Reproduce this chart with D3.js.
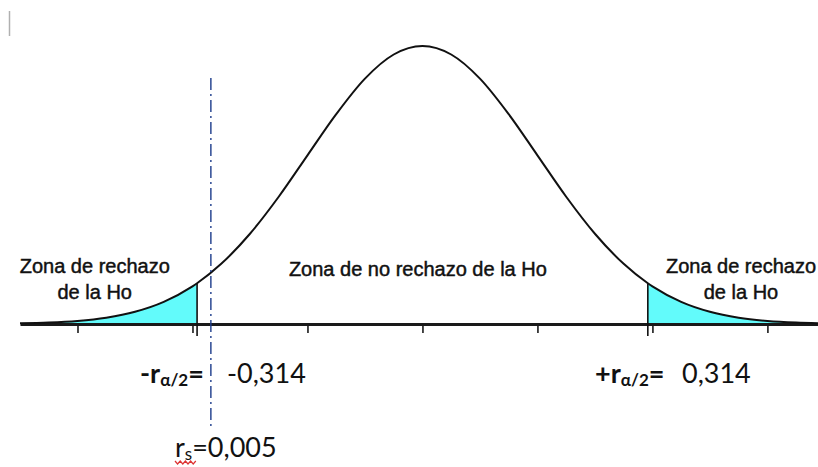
<!DOCTYPE html>
<html>
<head>
<meta charset="utf-8">
<script src="https://cdn.jsdelivr.net/npm/d3@7"></script>
<style>
  html, body { margin: 0; padding: 0; background: #fff; }
  svg { display: block; }
</style>
</head>
<body>
<div id="chart"></div>
<script>
// standard normal curve (z, height)
const curveZ = [-3.5, -3.25, -3, -2.75, -2.5, -2.25, -2, -1.96, -1.75, -1.5, -1.25, -1, -0.75, -0.5, -0.25, 0,
  0.25, 0.5, 0.75, 1, 1.25, 1.5, 1.75, 1.96, 2, 2.25, 2.5, 2.75, 3, 3.25, 3.5];
const curveDensity = [0.0009, 0.0020, 0.0044, 0.0091, 0.0175, 0.0317, 0.0540, 0.0584, 0.0863, 0.1295, 0.1826, 0.2420, 0.3011, 0.3521, 0.3867, 0.3989,
  0.3867, 0.3521, 0.3011, 0.2420, 0.1826, 0.1295, 0.0863, 0.0584, 0.0540, 0.0317, 0.0175, 0.0091, 0.0044, 0.0020, 0.0009];

const tickValues = [-3, -2, -1, 0, 1, 2, 3];
const criticalValues = [-1.96, 1.96];
const rsPosition = -1.84;

const zoneLabels = [
  { lines: ["Zona de rechazo", "de la Ho"], z: -2.85 },
  { lines: ["Zona de no rechazo de la Ho"], z: -0.04 },
  { lines: ["Zona de rechazo", "de la Ho"], z: 2.77 }
];

const size = { x: 818, y: 467 };
const axisY = 324;

const points = curveZ.map((z, i) => ({ z: z, d: curveDensity[i] }));

const xScale = d3.scaleLinear()
  .domain([-3.5, 3.44])
  .range([20, 818]);

const yScale = d3.scaleLinear()
  .domain([0, 0.3989])
  .range([axisY, 46]);

const svg = d3.select("#chart")
  .append("svg")
  .attr("width", size.x)
  .attr("height", size.y)
  .attr("viewBox", [0, 0, size.x, size.y]);

// little grey cursor mark top-left
svg.append("line")
  .attr("x1", 9.5).attr("x2", 9.5)
  .attr("y1", 11).attr("y2", 36)
  .attr("stroke", "#b0b0b0")
  .attr("stroke-width", 1.5);

// shaded tails
const area = d3.area()
  .x(d => xScale(d.z))
  .y0(axisY)
  .y1(d => yScale(d.d))
  .curve(d3.curveMonotoneX);

svg.append("path")
  .datum(points.filter(d => d.z <= criticalValues[0]))
  .attr("d", area)
  .attr("fill", "#62fbfb");

svg.append("path")
  .datum(points.filter(d => d.z >= criticalValues[1]))
  .attr("d", area)
  .attr("fill", "#62fbfb");

// axis
const axis = svg.append("g")
  .attr("transform", `translate(0,${axisY})`)
  .call(d3.axisBottom(xScale).tickValues(tickValues).tickFormat("").tickSize(9).tickSizeOuter(0));

axis.select(".domain")
  .attr("stroke", "#1a1a1a")
  .attr("stroke-width", 3);

axis.selectAll(".tick line")
  .attr("stroke", "#1a1a1a")
  .attr("stroke-width", 1.6);

// critical value lines
svg.selectAll(".critical")
  .data(criticalValues)
  .enter()
  .append("line")
  .attr("class", "critical")
  .attr("x1", d => xScale(d))
  .attr("x2", d => xScale(d))
  .attr("y1", d => yScale(points.find(p => p.z === d).d))
  .attr("y2", axisY + 12)
  .attr("stroke", "#111")
  .attr("stroke-width", 1.6);

// curve
const line = d3.line()
  .x(d => xScale(d.z))
  .y(d => yScale(d.d))
  .curve(d3.curveMonotoneX);

svg.append("path")
  .datum(points)
  .attr("d", line)
  .attr("fill", "none")
  .attr("stroke", "#111")
  .attr("stroke-width", 2);

// r_s dash-dot line
svg.append("line")
  .attr("x1", xScale(rsPosition))
  .attr("x2", xScale(rsPosition))
  .attr("y1", 78)
  .attr("y2", 426)
  .attr("stroke", "#1c3c8c")
  .attr("stroke-width", 1.4)
  .attr("stroke-dasharray", "12,4,2,4");

// zone labels
const zoneText = svg.selectAll(".zone")
  .data(zoneLabels)
  .enter()
  .append("text")
  .attr("class", "zone")
  .attr("text-anchor", "middle")
  .attr("font-family", "'Liberation Sans', Arial, sans-serif")
  .attr("font-size", "20px")
  .attr("fill", "#111")
  .attr("stroke", "#111")
  .attr("stroke-width", 0.45)
  .attr("transform", d => `translate(${xScale(d.z)},${d.lines.length > 1 ? 273 : 276})`);

zoneText.selectAll("tspan")
  .data(d => d.lines)
  .enter()
  .append("tspan")
  .attr("x", 0)
  .attr("dy", (d, i) => i === 0 ? 0 : 26)
  .text(d => d);

// critical value labels
const labelFont = "Lato, 'Open Sans', sans-serif";

const addCritLabel = (x, sign) => {
  const t = svg.append("text")
    .attr("x", x)
    .attr("y", 383)
    .attr("font-family", labelFont)
    .attr("font-size", "27px")
    .attr("font-weight", "bold")
    .attr("fill", "#111");
  t.append("tspan").text(sign + "r");
  t.append("tspan").attr("font-size", "17px").attr("dy", 3).text("α/2");
  t.append("tspan").attr("dy", -3).text("=");
};

addCritLabel(140, "-");
addCritLabel(595, "+");

svg.append("text")
  .attr("x", 227).attr("y", 383)
  .attr("font-family", labelFont)
  .attr("font-size", "27px")
  .attr("fill", "#111")
  .text("-0,314");

svg.append("text")
  .attr("x", 682).attr("y", 383)
  .attr("font-family", labelFont)
  .attr("font-size", "27px")
  .attr("fill", "#111")
  .text("0,314");

// r_s label
const rs = svg.append("text")
  .attr("x", 175).attr("y", 457)
  .attr("font-family", labelFont)
  .attr("font-size", "27px")
  .attr("fill", "#111");
rs.append("tspan").text("r");
rs.append("tspan").attr("font-size", "17px").attr("dy", 3).text("s");
rs.append("tspan").attr("dy", -3).text("=0,005");

// spell-check squiggle under r_s
const squiggle = d3.range(0, 9).map(i => [175 + i * 2.6, i % 2 === 0 ? 461 : 464]);
svg.append("path")
  .attr("d", d3.line()(squiggle))
  .attr("fill", "none")
  .attr("stroke", "#d33")
  .attr("stroke-width", 1.2);
</script>
</body>
</html>
